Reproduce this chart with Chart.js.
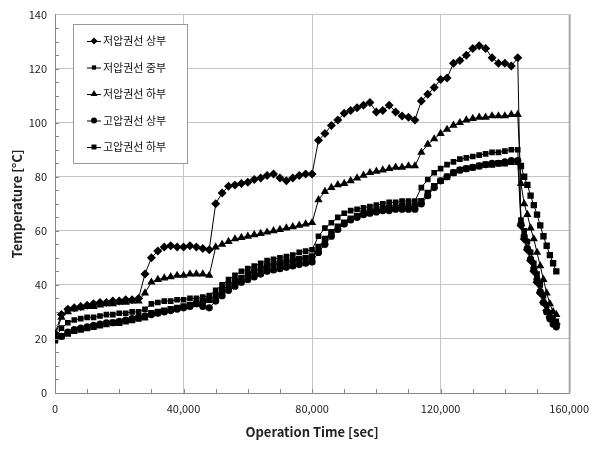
<!DOCTYPE html>
<html>
<head>
    <title>Temperature vs Operation Time</title>
    <style>
        body {
            margin: 0;
            padding: 0;
            background-color: #fff;
        }

        #wrap {
            position: relative;
            width: 598px;
            height: 453px;
        }
    </style>
    <script src="https://cdn.jsdelivr.net/npm/chart.js"></script>
</head>
<body>
    <div id="wrap">
        <canvas id="tempChart"></canvas>
    </div>

    <script>
        // operation time [sec]
        const times = [
            0, 2000, 4000, 6000, 8000, 10000, 12000, 14000, 16000, 18000, 20000, 22000, 24000, 26000,
            28000, 30000, 32000, 34000, 36000, 38000, 40000, 42000, 44000, 46000, 48000,
            50000, 52000, 54000, 56000, 58000, 60000, 62000, 64000, 66000, 68000, 70000, 72000, 74000, 76000, 78000, 80000,
            82000, 84000, 86000, 88000, 90000, 92000, 94000, 96000, 98000, 100000, 102000, 104000, 106000, 108000, 110000, 112000,
            114000, 116000, 118000, 120000, 122000, 124000, 126000, 128000, 130000, 132000, 134000, 136000, 138000, 140000, 142000, 144000,
            145000, 146000, 147000, 148000, 149000, 150000, 151000, 152000, 153000, 154000, 155000, 156000
        ];

        // 저압권선 상부
        const lvTop = [
            22, 29, 31, 31.5, 32, 32.5, 33, 33.5, 33.5, 34, 34, 34.5, 34.5, 35,
            44, 50, 52.5, 54, 54.5, 54, 54, 54.5, 54, 53.5, 53,
            70, 74, 76.5, 77, 77.5, 78, 79, 79.5, 80.5, 81, 79.5, 78.5, 79.5, 80.5, 81, 81,
            93.5, 96, 99, 101, 103.5, 104.5, 105.5, 106.5, 107.5, 104, 104.5, 106.5, 104, 102.5, 102, 101,
            108, 110.5, 113, 116, 116.5, 122, 123, 125, 127.5, 128.5, 127.5, 124, 122, 122, 121, 124,
            62, 57, 53, 49, 45, 41, 37, 33.5, 30.5, 28, 26.5, 25.5
        ];

        // 저압권선 중부
        const lvMid = [
            20, 24, 26, 27, 27.5, 28, 28, 28.5, 29, 29, 29.5, 29.5, 30, 30,
            31, 33, 33.5, 34, 34, 34.5, 34.5, 35, 35, 35.5, 36,
            38, 40, 42, 43.5, 45, 46, 47, 48, 49, 49.5, 50, 50.5, 51, 52, 52.5, 53,
            58, 61, 63, 65, 66.5, 67.5, 68, 68.5, 69, 69.5, 70, 70.5, 70.5, 71, 71, 71,
            76, 79, 81.5, 83, 84.5, 85.5, 86.5, 87, 87.5, 88, 88.5, 89, 89, 89.5, 90, 90,
            64, 60, 56, 52, 48, 44, 40, 36, 32.5, 29.5, 27.5, 26.5
        ];

        // 저압권선 하부
        const lvBot = [
            21, 28, 30, 31, 31.5, 32, 32, 32.5, 33, 33, 33.5, 33.5, 34, 34,
            37, 41, 42, 42.5, 43, 43.5, 43.5, 44, 44, 44, 43.5,
            54, 55, 56, 57, 57.5, 58, 58.5, 59, 59.5, 60, 60.5, 61, 61.5, 62, 62.5, 63,
            71.5, 74.5, 76, 77, 77.5, 78.5, 79.5, 80.5, 81.5, 82, 82.5, 83, 83.5, 83.5, 84, 84,
            89, 92, 94, 96, 97.5, 99, 100, 101, 101.5, 102, 102, 102.5, 102.5, 102.5, 103, 103,
            77.5, 70, 66, 61, 57, 52, 47, 42, 37, 33, 30, 29
        ];

        // 고압권선 상부
        const hvTop = [
            20, 21, 22.5, 23.5, 24, 24.5, 25, 25.5, 26, 26, 26.5, 27, 27.5, 28,
            28.5, 29, 29.5, 30, 30.5, 31, 31.5, 32, 33, 32, 31.5,
            34, 36, 38, 39.5, 41, 42, 43, 44, 45, 45.5, 46, 46.5, 47, 47.5, 48, 48.5,
            52, 55, 58, 60.5, 62.5, 64, 65, 66, 66.5, 67, 67.5, 67.5, 68, 68, 68, 68,
            70, 73, 76, 78.5, 80, 81.5, 82.5, 83, 83.5, 84, 84.5, 85, 85, 85.5, 86, 86,
            62.5, 58, 53.5, 49.5, 46, 42, 37.5, 33.5, 30, 27.5, 25.5, 24.5
        ];

        // 고압권선 하부
        const hvBot = [
            19.5, 21, 22, 23, 23.5, 24, 24.5, 25, 25.5, 26, 26, 26.5, 27, 27.5,
            28, 29.5, 30, 30.5, 31, 31.5, 32, 32.5, 33, 34, 34.5,
            36, 38, 40, 41.5, 42.5, 44, 45, 46, 47, 47.5, 48, 48.5, 49, 49.5, 50, 50.5,
            54, 57, 59.5, 61.5, 63, 64.5, 65.5, 66.5, 67, 67.5, 68, 68.5, 68.5, 69, 69, 69,
            71, 74, 76.5, 78.5, 80, 81.5, 82.5, 83, 83.5, 84, 84.5, 84.5, 85, 85, 85.5, 85.5,
            84, 80, 77, 73, 69.5, 66, 62, 58, 54.5, 51, 48, 45
        ];

        const seriesNames = ["저압권선 상부", "저압권선 중부", "저압권선 하부", "고압권선 상부", "고압권선 하부"];
        const seriesData = [lvTop, lvMid, lvBot, hvTop, hvBot];
        const markers = ["rectRot", "rect", "triangle", "circle", "rect"];
        const markerSizes = [4.5, 4, 4.8, 3.6, 4.5];
        const legendSizes = [3.5, 3, 4, 3, 3.5];

        const datasets = seriesData.map((vals, i) => ({
            label: seriesNames[i],
            data: vals.map((v, j) => ({ x: times[j], y: v })),
            borderColor: "#000",
            backgroundColor: "#000",
            borderWidth: 1,
            pointStyle: markers[i],
            pointRadius: markerSizes[i],
            pointBorderWidth: 0,
            pointBackgroundColor: "#000"
        }));

        // legend box inside the plot, minor ticks and right frame line
        const extras = {
            id: "extras",
            afterDraw(chart) {
                const ctx = chart.ctx;
                const area = chart.chartArea;
                const xs = chart.scales.x;
                const ys = chart.scales.y;

                ctx.save();
                // right frame
                ctx.strokeStyle = "#a8a8a8";
                ctx.lineWidth = 2;
                ctx.beginPath();
                ctx.moveTo(area.right + 0.5, area.top);
                ctx.lineTo(area.right + 0.5, area.bottom);
                ctx.stroke();

                // minor ticks (inside)
                ctx.strokeStyle = "#888";
                ctx.lineWidth = 1;
                ctx.beginPath();
                for (let t = 10000; t < 160000; t += 10000) {
                    const px = Math.round(xs.getPixelForValue(t)) + 0.5;
                    ctx.moveTo(px, area.bottom);
                    ctx.lineTo(px, area.bottom - 4);
                }
                for (let v = 5; v < 140; v += 5) {
                    const py = Math.round(ys.getPixelForValue(v)) + 0.5;
                    ctx.moveTo(area.left, py);
                    ctx.lineTo(area.left + 4, py);
                }
                ctx.stroke();

                // legend
                const bx = 73, by = 24, bw = 114, bh = 139;
                ctx.fillStyle = "#fff";
                ctx.fillRect(bx, by, bw, bh);
                ctx.strokeStyle = "#999";
                ctx.strokeRect(bx + 0.5, by + 0.5, bw, bh);
                ctx.font = "11px 'Noto Sans CJK KR', sans-serif";
                ctx.textBaseline = "middle";
                ctx.textAlign = "left";
                for (let i = 0; i < seriesNames.length; i++) {
                    const y = by + 17 + i * 26.5;
                    ctx.strokeStyle = "#000";
                    ctx.lineWidth = 1;
                    ctx.beginPath();
                    ctx.moveTo(87, y + 0.5);
                    ctx.lineTo(101, y + 0.5);
                    ctx.stroke();
                    ctx.fillStyle = "#000";
                    Chart.helpers.drawPoint(ctx, {
                        pointStyle: markers[i],
                        radius: legendSizes[i],
                        rotation: 0,
                        borderWidth: 0
                    }, 94, y);
                    ctx.fillStyle = "#111";
                    ctx.fillText(seriesNames[i], 103, y);
                }
                ctx.restore();
            }
        };

        const ctx = document.getElementById("tempChart").getContext("2d");
        new Chart(ctx, {
            type: "line",
            data: { datasets: datasets },
            options: {
                responsive: true,
                maintainAspectRatio: false,
                animation: false,
                layout: { padding: { top: 12, right: 18, left: 0, bottom: 0 } },
                plugins: {
                    legend: { display: false },
                    tooltip: { enabled: false }
                },
                scales: {
                    x: {
                        type: "linear",
                        min: 0,
                        max: 160000,
                        afterFit(scale) { scale.height = 60; },
                        ticks: {
                            stepSize: 40000,
                            padding: 9,
                            color: "#222",
                            font: { family: "'Noto Sans CJK KR', sans-serif", size: 11 },
                            maxRotation: 0,
                            callback: v => v.toLocaleString("en-US")
                        },
                        grid: { color: "#c4c4c4", drawTicks: false },
                        border: { color: "#888" },
                        title: {
                            display: true,
                            text: "Operation Time [sec]",
                            color: "#222",
                            font: { family: "'Noto Sans CJK KR', sans-serif", size: 13, weight: "bold" },
                            padding: { top: 0, bottom: 13 }
                        }
                    },
                    y: {
                        min: 0,
                        max: 140,
                        afterFit(scale) { scale.width = 55; },
                        ticks: {
                            stepSize: 20,
                            padding: 8,
                            color: "#222",
                            font: { family: "'Noto Sans CJK KR', sans-serif", size: 11 }
                        },
                        grid: { color: "#c4c4c4", drawTicks: false },
                        border: { color: "#888" },
                        title: {
                            display: true,
                            text: "Temperature [°C]",
                            color: "#222",
                            font: { family: "'Noto Sans CJK KR', sans-serif", size: 13, weight: "bold" },
                            padding: { top: 9, bottom: 0 }
                        }
                    }
                }
            },
            plugins: [extras]
        });
    </script>
</body>
</html>
